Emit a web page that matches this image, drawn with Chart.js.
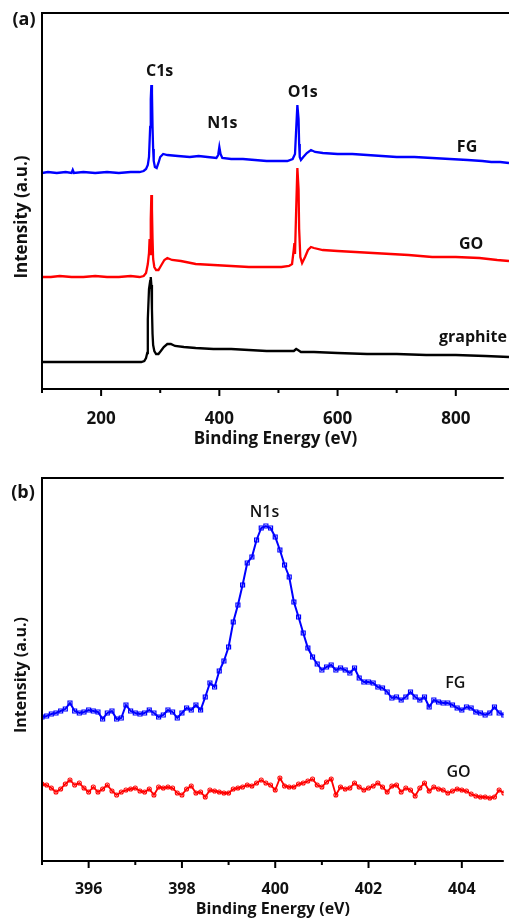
<!DOCTYPE html>
<html>
<head>
<meta charset="utf-8">
<script src="https://cdn.jsdelivr.net/npm/chart.js@4.4.0/dist/chart.umd.min.js"></script>
<style>
  html, body { margin: 0; padding: 0; background: #fff; overflow: hidden; }
  #wrap { position: relative; width: 509px; height: 919px; }
  canvas { position: absolute; left: 0; }
  #survey { top: 0; }
  #n1s { top: 460px; }
</style>
</head>
<body>
<div id="wrap">
  <canvas id="survey" width="509" height="460"></canvas>
  <canvas id="n1s" width="509" height="459"></canvas>
</div>
<script>
// ---- (a) survey spectra: [binding energy eV, intensity a.u. (offset stacked)]
const fgSurvey = [
  [100,216],[110,217],[125,216],[140,217],[150,216],[152,219],[154,216],[170,217],[190,216],[210,217],
  [230,216],[250,217],[265,217],[272,218],[276,220],[279,224],[281,232],[283,262],[284,290],[285,304],
  [286,296],[287,262],[288,240],[289,228],[291,222],[294,221],[297,226],[300,232],[305,235],[312,234],
  [330,233],[350,232],[365,233],[380,232],[395,231],[398,234],[400,242],[402,235],[405,231],[420,230],
  [440,230],[460,229],[480,228],[500,228],[515,228],[524,230],[528,235],[530,260],[532,284],[534,270],
  [535,245],[536,232],[538,229],[542,232],[548,236],[555,239],[562,237],[575,236],[600,235],[625,235],
  [650,234],[675,233],[700,232],[730,232],[760,231],[790,230],[820,229],[845,228],[860,227],[875,227],[890,226]
];
const goSurvey = [
  [100,112],[115,112],[130,113],[150,112],[170,112],[190,113],[210,112],[230,112],[250,113],[265,112],
  [272,113],[276,116],[279,125],[281,136],[282,150],[283,135],[284,170],[285,194],[286,180],[287,150],
  [288,130],[290,122],[293,119],[297,119],[302,124],[307,129],[312,131],[320,129],[335,128],[360,125],
  [390,124],[420,123],[450,122],[480,122],[505,122],[518,123],[523,125],[526,140],[527,146],[528,135],
  [530,180],[532,221],[534,200],[535,160],[537,132],[540,126],[545,132],[550,139],[555,142],[560,141],
  [575,139],[600,138],[630,137],[660,136],[690,135],[720,134],[760,132],[800,132],[840,131],[870,129],[890,128]
];
const graphiteSurvey = [
  [100,27],[130,27],[160,27],[190,27],[220,27],[250,27],[268,27],[273,28],[276,31],[278,36],
  [279,70],[281,100],[283,108],[284,112],[285,104],[286,80],[287,55],[288,44],[290,38],[293,35],
  [297,35],[301,38],[306,42],[312,45],[318,45],[325,43],[340,42],[360,41],[390,40],[420,40],
  [450,39],[480,38],[510,38],[526,38],[530,40],[533,39],[538,37],[560,37],[600,36],[650,35],
  [700,35],[750,34],[800,34],[850,33],[890,32]
];
const surveyTicks = [100, 200, 300, 400, 500, 600, 700, 800];
const surveyMajor = [200, 400, 600, 800];
const surveyLabels = [
  ['C1s', 299, 318], ['N1s', 405, 266], ['O1s', 541, 297],
  ['FG', 819, 242], ['GO', 826, 145], ['graphite', 829, 52]
];

// ---- (b) N1s high-resolution spectra
const n1sEnergy = [
  395.0,395.1,395.2,395.3,395.4,395.5,395.6,395.7,395.8,395.9,
  396.0,396.1,396.2,396.3,396.4,396.5,396.6,396.7,396.8,396.9,
  397.0,397.1,397.2,397.3,397.4,397.5,397.6,397.7,397.8,397.9,
  398.0,398.1,398.2,398.3,398.4,398.5,398.6,398.7,398.8,398.9,
  399.0,399.1,399.2,399.3,399.4,399.5,399.6,399.7,399.8,399.9,
  400.0,400.1,400.2,400.3,400.4,400.5,400.6,400.7,400.8,400.9,
  401.0,401.1,401.2,401.3,401.4,401.5,401.6,401.7,401.8,401.9,
  402.0,402.1,402.2,402.3,402.4,402.5,402.6,402.7,402.8,402.9,
  403.0,403.1,403.2,403.3,403.4,403.5,403.6,403.7,403.8,403.9,
  404.0,404.1,404.2,404.3,404.4,404.5,404.6,404.7,404.8,404.9
];
const fgN1s = [
  144,145,147,148,150,152,158,150,148,149,
  151,150,149,142,148,150,142,143,156,150,
  148,147,148,151,148,144,146,151,149,143,
  148,153,151,156,151,164,178,174,190,200,
  214,239,256,276,298,304,321,333,335,333,
  324,311,296,284,259,244,228,213,204,197,
  191,194,196,191,193,191,188,193,183,179,
  179,178,174,173,169,163,164,161,164,169,
  164,161,164,154,161,159,158,158,156,153,
  151,154,153,149,148,146,148,154,148,146
];
const goN1s = [
  77,76,73,69,72,77,81,76,78,73,
  69,74,69,72,76,70,66,69,71,72,
  73,70,69,72,66,74,73,74,73,68,
  66,72,75,68,69,64,71,70,69,68,
  68,72,73,74,76,75,78,81,78,76,
  71,83,75,74,74,77,78,80,82,76,
  74,79,82,66,74,72,73,78,74,71,
  73,75,78,74,69,75,76,69,73,71,
  65,73,78,70,74,72,71,68,70,72,
  71,70,67,65,64,64,63,64,71,68
];
const n1sTicks = [395, 396, 397, 398, 399, 400, 401, 402, 403, 404];
const n1sMajor = [396, 398, 400, 402, 404];
const n1sLabels = [['N1s', 399.77, 349], ['FG', 403.86, 178], ['GO', 403.93, 89]];

const FONT = "'Open Sans', 'DejaVu Sans', sans-serif";
const INK = '#111';

// axes frame, minor/major ticks, annotations and titles
const framePlugin = {
  id: 'frame',
  afterDraw(chart, args, opts) {
    const { ctx, chartArea: a, scales: { x, y } } = chart;
    ctx.save();
    ctx.strokeStyle = '#000';
    ctx.lineWidth = 2;
    ctx.beginPath();
    ctx.moveTo(a.left, a.top); ctx.lineTo(a.right, a.top);
    ctx.moveTo(a.left, a.top - 1); ctx.lineTo(a.left, a.bottom + 1);
    ctx.moveTo(a.left - 1, a.bottom); ctx.lineTo(a.right, a.bottom);
    x.ticks.forEach(t => {
      const px = x.getPixelForValue(t.value);
      ctx.moveTo(px, a.bottom);
      ctx.lineTo(px, a.bottom + (t.major ? 7 : 4));
    });
    ctx.stroke();

    ctx.fillStyle = INK;
    ctx.textAlign = 'center';
    ctx.textBaseline = 'middle';
    ctx.font = opts.labelFont;
    opts.labels.forEach(([txt, lx, ly]) => {
      ctx.fillText(txt, x.getPixelForValue(lx), y.getPixelForValue(ly));
    });

    ctx.font = 'bold 18px ' + FONT;
    ctx.fillText(opts.panel, opts.panelPos[0], opts.panelPos[1]);

    ctx.font = opts.titleFont;
    ctx.translate(opts.yTitlePos[0], opts.yTitlePos[1]);
    ctx.rotate(-Math.PI / 2);
    ctx.fillText('Intensity (a.u.)', 0, 0);
    ctx.restore();
  }
};

function xScale(min, max, tickVals, majorVals, height, fontSize, pad, titlePad) {
  return {
    type: 'linear', min, max,
    grid: { display: false }, border: { display: false },
    afterBuildTicks: s => { s.ticks = tickVals.map(v => ({ value: v, major: majorVals.includes(v) })); },
    afterFit: s => { s.height = height; },
    ticks: {
      autoSkip: false, maxRotation: 0, padding: pad, color: INK,
      font: { family: FONT, size: fontSize, weight: 'bold' },
      callback: v => majorVals.includes(v) ? String(v) : ''
    },
    title: {
      display: true, text: 'Binding Energy (eV)', color: INK,
      font: { family: FONT, size: fontSize, weight: 'bold' },
      padding: { top: 0, bottom: titlePad }
    }
  };
}

function yScale(max) {
  return {
    type: 'linear', min: 0, max,
    grid: { display: false }, border: { display: false },
    ticks: { display: false },
    afterFit: s => { s.width = 42; }
  };
}

const pts = arr => arr.map(([e, v]) => ({ x: e, y: v }));

new Chart(document.getElementById('survey'), {
  type: 'line',
  data: {
    datasets: [
      { data: pts(fgSurvey), borderColor: '#0000ff', borderWidth: 2.3, pointRadius: 0, tension: 0 },
      { data: pts(goSurvey), borderColor: '#ff0000', borderWidth: 2.3, pointRadius: 0, tension: 0 },
      { data: pts(graphiteSurvey), borderColor: '#000000', borderWidth: 2.3, pointRadius: 0, tension: 0 }
    ]
  },
  options: {
    responsive: false, animation: false, devicePixelRatio: 1,
    layout: { padding: { top: 13, left: 0, right: 0, bottom: 0 } },
    plugins: {
      legend: { display: false }, tooltip: { enabled: false },
      frame: {
        labels: surveyLabels, labelFont: 'bold 16px ' + FONT,
        panel: '(a)', panelPos: [24, 20],
        titleFont: 'bold 17px ' + FONT, yTitlePos: [22, 217]
      }
    },
    scales: {
      x: xScale(100, 890, surveyTicks, surveyMajor, 71, 17, 12, 11),
      y: yScale(376)
    }
  },
  plugins: [framePlugin]
});

const n1sData = vals => vals.map((v, i) => ({ x: n1sEnergy[i], y: v }));

new Chart(document.getElementById('n1s'), {
  type: 'line',
  data: {
    datasets: [
      { data: n1sData(fgN1s), borderColor: '#0000ff', borderWidth: 2, tension: 0,
        pointStyle: 'rect', pointRadius: 2.8, pointBorderWidth: 1.2,
        pointBorderColor: '#0000ff', pointBackgroundColor: 'rgba(255,255,255,0)' },
      { data: n1sData(goN1s), borderColor: '#ff0000', borderWidth: 1.8, tension: 0,
        pointStyle: 'circle', pointRadius: 2, pointBorderWidth: 1.1,
        pointBorderColor: '#ff0000', pointBackgroundColor: 'rgba(255,255,255,0)' }
    ]
  },
  options: {
    responsive: false, animation: false, devicePixelRatio: 1,
    layout: { padding: { top: 18, left: 0, right: 0, bottom: 0 } },
    plugins: {
      legend: { display: false }, tooltip: { enabled: false },
      frame: {
        labels: n1sLabels, labelFont: '600 16px ' + FONT,
        panel: '(b)', panelPos: [23, 33],
        titleFont: 'bold 16px ' + FONT, yTitlePos: [21, 215]
      }
    },
    scales: {
      x: xScale(395, 404.9, n1sTicks, n1sMajor, 58, 16, 11, 0),
      y: yScale(383)
    }
  },
  plugins: [framePlugin]
});
</script>
</body>
</html>
